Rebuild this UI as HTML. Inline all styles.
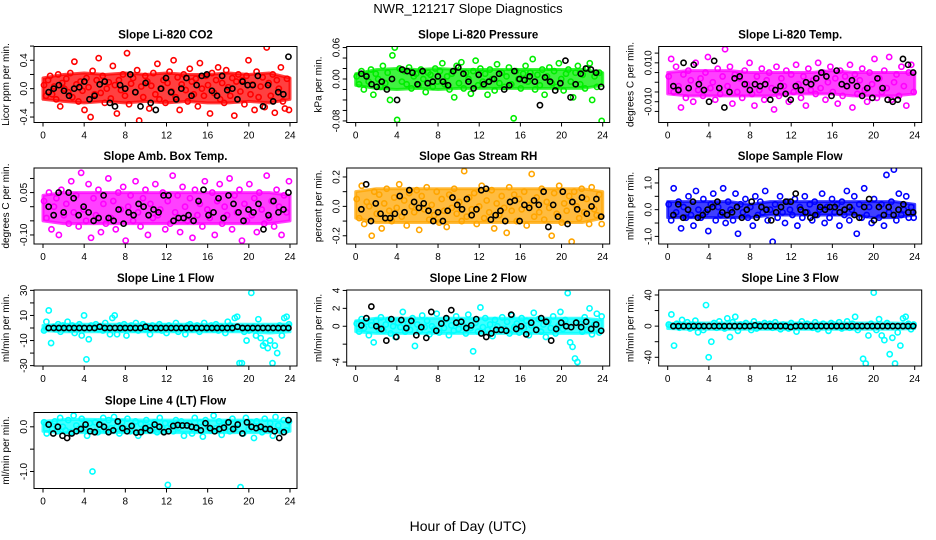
<!DOCTYPE html>
<html><head><meta charset="utf-8">
<style>
body{margin:0;background:#fff;}
svg{display:block;font-family:"Liberation Sans",sans-serif;}
</style></head>
<body>
<svg id="chart" width="936" height="540" viewBox="0 0 936 540">
<rect width="936" height="540" fill="#fff"/>
<text x="468" y="13" text-anchor="middle" font-size="13">NWR_121217  Slope Diagnostics</text>
<text x="468" y="531" text-anchor="middle" font-size="14">Hour of Day (UTC)</text>
</svg>
<script>
// x-axis ticks (hours)
const xTicks = [0,4,8,12,16,20,24];
// hours at which the dense-cloud band limits are given
const bandHours = [0,2,4,6,8,10,12,14,16,18,20,22,24];
// Panel 1: CO2 (values in 0.01 ppm/min)
const co2Color = [5,-10,12,18,-8,3,-15,20,-25,8,0,14,-5,22,-12,38,6,-18,10,-3,-30,15,2,-40,25,-8,12,43,-6,18,-20,0,9,-14,32,5,-35,12,-2,20,-10,50,-22,7,15,-5,26,-45,3,-12,18,10,-28,4,22,-8,35,-15,0,12,-20,8,24,-4,40,-12,16,-30,6,20,-2,-18,28,10,-8,14,-25,36,0,-10,18,5,-35,22,-6,12,30,-15,8,-20,26,2,-10,15,-38,10,20,-4,12,-22,18,40,-8,6,-30,24,-12,3,16,-26,58,8,-10,20,-34,12,0,30,-18,-28,14,-30];
const co2Black = [-5,0,5,-3,-10,0,2,10,-15,-10,6,10,-20,-25,5,0,20,-5,-25,8,-20,-30,0,15,-5,-15,0,15,-10,5,18,20,-3,-10,18,-2,0,-15,10,5,5,18,-25,5,-18,-5,-8,45];
const co2Lo = [-15,-18,-20,-18,-20,-18,-20,-18,-20,-20,-18,-20,-15];
const co2Hi = [15,20,22,20,22,20,22,20,20,22,20,22,15];
// Panel 2: pressure (0.001 kPa/min)
const presColor = [5,-10,15,-20,8,-5,18,-30,10,0,-15,25,-8,12,-40,45,60,-78,20,-5,15,-10,22,-18,5,10,-12,18,0,-25,12,8,-15,20,-5,15,30,-10,5,-20,10,-35,25,-8,32,-18,12,0,-28,15,35,-12,20,-5,10,-30,18,0,-22,28,-8,12,-15,5,22,-10,-75,15,0,-18,10,25,-5,12,38,-20,8,-12,18,-30,5,22,-8,15,-15,30,0,-22,10,18,-5,-35,12,25,-10,8,-18,20,30,-40,5,-15,12,-80];
const presBlack = [10,5,-10,-15,-5,-20,0,-40,18,15,12,-10,15,-8,-5,5,-5,-12,15,22,10,-5,-18,8,-10,-5,0,10,-20,-12,15,0,-2,5,-5,-50,3,-5,-22,-8,35,-35,-10,10,20,18,12,-15];
const presLo = [-12,-18,-20,-18,-20,-18,-18,-18,-18,-18,-18,-18,-12];
const presHi = [10,18,20,18,20,18,18,18,18,18,18,18,12];
// Panel 3: Li-820 temp (0.001 C/min)
const tempColor = [3,12,-5,8,-2,-13,4,-8,6,1,-10,10,-4,2,-7,5,13,-3,0,-9,7,-6,3,17,-2,8,-11,4,-5,2,-8,6,-1,10,-6,-12,3,-4,7,-9,1,5,-3,-14,8,-7,2,-2,6,-10,4,-5,9,-1,-8,3,-12,7,-4,1,-6,10,-3,5,-9,0,8,-5,2,-11,6,-7,3,-2,9,-13,4,-6,1,7,-4,-10,5,-1,12,-8,2,-5,6,-3,13,-9,0,4,-7,8,-2,-12,5,9,-5];
const tempBlack = [-2,-4,10,-3,9,-1,-4,-10,11,-3,-13,-5,2,3,-1,-4,-1,-2,-1,-9,-4,-2,-6,-9,-2,-4,0,-1,2,5,3,-7,6,-1,-2,1,-2,-7,-3,-8,2,-3,-9,-10,-9,12,9,5];
const tempLo = [-6,-7,-7,-7,-7,-7,-6,-6,-6,-7,-7,-7,-6];
const tempHi = [5,6,6,6,5,5,5,5,6,5,5,5,5];
// Panel 4: amb box temp (0.01 C/min)
const ambColor = [2,-4,5,-8,0,3,-10,6,-3,1,-6,9,-2,4,-7,12,-1,-5,8,-11,3,-3,6,-9,1,-6,10,-4,2,-8,5,-1,7,-12,0,4,-5,9,-2,-7,3,6,-10,1,-4,8,-3,-1,5,-8,2,-6,11,-2,4,-9,7,0,-5,3,-11,6,-3,1,-7,9,-1,-4,5,-10,2,8,-6,0,-3,10,-8,4,-2,6,-12,1,-5,8,-3,3,-9,5,-1,-6,11,-4,2,-7,6,0,-10,4,-2,9];
const ambBlack = [0,-3,5,-2,5,3,-3,0,-2,-5,-4,4,-4,-5,-1,-6,-2,-3,1,0,-3,-1,-2,4,4,-5,-4,-4,-3,-5,2,6,-3,-2,3,-4,4,1,-2,-5,-1,-2,1,-8,-3,2,-2,-1,5];
const ambLo = [-5,-6,-6,-6,-6,-6,-6,-6,-6,-6,-6,-6,-5];
const ambHi = [4,5,5,5,5,5,5,5,5,5,5,5,4];
// Panel 5: gas stream RH (0.01 %/min)
const rhColor = [5,-8,14,-12,3,0,-20,10,-5,8,-15,2,12,-3,-10,6,-1,15,-7,4,-13,9,0,-4,11,-16,7,-2,13,-9,1,-6,10,-11,5,-3,-14,8,-1,12,-5,3,-10,24,-7,6,-2,9,-12,0,14,-8,4,-4,11,-15,2,-6,7,-1,-18,13,-3,8,-10,5,-2,10,-13,1,22,-7,6,-4,12,-9,3,-1,-20,9,-5,14,-11,2,-3,7,-24,10,0,-8,12,-4,5,-12,13,-2,-6,8,-12];
const rhBlack = [-2,15,-10,2,-5,-8,-8,-5,7,-4,11,3,-1,2,-3,-10,-4,-10,-3,6,1,-2,5,-6,-2,11,12,-9,-6,-3,-10,3,4,-10,1,-1,4,1,10,-14,1,-7,10,-12,3,-2,6,-5,0,5,-7];
const rhLo = [-8,-11,-11,-11,-11,-11,-11,-11,-11,-11,-11,-11,-8];
const rhHi = [10,12,12,12,12,12,12,12,12,12,12,12,10];
// Panel 6: sample flow (0.1 ml/min/min)
const sfColor = [2,-4,8,-1,3,-7,1,-3,5,-2,-6,7,0,-3,4,-1,-8,2,6,-4,1,-2,8,-5,3,0,-4,6,-9,2,-1,4,-3,1,-6,5,-2,3,-1,7,-4,0,-12,2,-3,5,-1,-5,3,0,-2,4,-6,1,-3,5,-1,2,-4,3,-2,0,6,-5,1,-3,4,-1,2,-6,3,-2,7,-4,0,5,-9,2,-3,8,-2,1,-5,4,18,-3,2,-6,13,-1,3,15,-4,6,-2,0,5,-3,1,-3];
const sfBlack = [-2,2,-3,0,3,-3,-2,0,1,3,-1,-2,-1,1,-3,0,3,-3,1,0,-4,-1,1,3,3,6,0,-1,-3,-2,1,0,1,1,-1,0,1,-2,-3,1,4,-4,1,-2,1,-2,0,2,-1,-1];
const sfLo = [-3,-3,-3,-3,-3,-2,-2,-2,-2,-2,-3,-3,-2];
const sfHi = [3,3,3,3,2,3,3,3,3,3,3,3,2];
// Panel 7: line 1 flow (ml/min/min)
const l1Color = [-2,5,14,-12,1,-1,3,-3,2,0,5,-1,2,-4,1,3,-6,10,-25,-9,2,0,3,-1,1,-2,4,0,-5,8,10,-5,2,-1,3,-6,0,2,-1,4,-2,0,3,-1,1,-5,2,0,-1,3,-2,1,-4,2,0,-1,4,-3,1,0,-5,2,3,-1,0,2,-3,1,4,-1,0,2,-1,3,-2,1,0,-4,5,2,-1,8,9,-28,-28,-3,-10,-2,28,1,-6,7,-8,-14,-12,-16,-10,-28,-14,-20,2,-6,8,9,3];
const l1Black = [0,0,0,0,0,0,0,0,0,0,1,0,0,0,0,0,0,0,0,1,0,0,0,0,0,0,0,0,0,0,0,0,0,0,0,0,0,1,0,0,0,0,0,0,0,0,0,0];
const l1Lo = [-2,-3,-3,-3,-3,-3,-3,-3,-3,-3,-3,-4,-3];
const l1Hi = [2,3,3,3,3,3,3,3,3,3,3,3,3];
// Panel 8: line 2 flow (0.1 ml/min/min)
const l2Color = [3,-6,8,-2,5,-10,1,-18,6,-3,10,-5,2,7,-8,0,-12,4,-1,16,-6,3,-4,9,-22,2,-5,12,-1,6,-9,0,-3,14,-7,4,-2,8,-10,1,-5,11,-3,6,0,-8,13,-2,-28,4,-6,21,-1,9,-4,2,-11,7,0,-5,10,-3,5,-8,12,-1,3,-7,9,-2,6,-10,1,15,-4,8,-6,2,-12,5,-2,11,-8,0,16,-3,7,37,-18,-23,-36,-40,3,-6,10,-4,20,-9,2,14,-7,11];
const l2Black = [1,9,22,0,-3,-16,8,-12,7,-2,6,-10,-1,-13,16,-5,3,9,18,4,5,-2,1,8,-8,-12,-8,-4,-4,-5,13,-3,0,-9,4,-4,9,5,-16,-3,4,0,-1,4,-1,5,-3,2,-5];
const l2Lo = [-6,-8,-8,-8,-8,-8,-8,-8,-8,-8,-8,-8,-6];
const l2Hi = [6,9,9,9,9,9,9,9,9,9,9,9,7];
// Panel 9: line 3 flow (ml/min/min)
const l3Color = [2,15,-25,3,-2,8,0,5,-3,2,7,-8,1,-5,27,-40,-20,4,-2,6,0,-3,10,-14,5,12,-6,2,-1,4,0,-5,6,-3,2,0,4,-1,3,-2,5,0,-4,2,1,-3,4,0,-7,2,6,-1,3,0,-2,5,-4,1,3,0,-6,4,2,-1,5,-3,0,6,-2,3,12,-5,1,-42,-48,-12,3,43,-5,9,-12,-18,4,-36,-15,-48,-8,-25,10,12,3,-4,2];
const l3Black = [0,0,0,0,0,0,0,0,0,0,0,0,0,0,0,0,1,0,0,0,0,0,0,-1,0,0,0,0,0,0,0,0,0,0,0,0,0,0,0,0,0,0,0,0,0,0,0,0];
const l3Lo = [-3,-4,-4,-4,-4,-4,-4,-4,-4,-4,-4,-4,-3];
const l3Hi = [3,4,4,4,4,4,4,4,4,4,4,4,3];
// Panel 10: line 4 flow (0.01 ml/min/min)
const l4Color = [10,-15,5,-5,12,-10,20,0,-8,15,-12,25,3,-5,18,-2,-20,8,-100,10,-12,5,20,-8,15,-3,22,0,-15,10,-5,18,-10,3,12,-20,6,-8,15,0,-5,10,-12,20,-3,8,-130,5,-10,15,-2,12,-20,3,8,-15,20,-5,10,-22,15,0,-8,25,-3,12,-18,5,10,-10,18,-2,8,-135,-15,20,-5,10,-25,12,0,-12,18,-5,8,-20,22,3,-10,15,-8,12];
const l4Black = [5,-15,0,-20,-25,-15,-10,-5,5,-10,-12,5,0,-12,-8,12,-3,-10,2,-13,-12,-3,-8,5,0,-12,-10,2,4,3,3,0,-2,-8,8,-3,-10,-5,-2,10,-5,5,-15,10,0,-3,0,-5,-5,-10,-25,-12,15];
const l4Lo = [-10,-13,-13,-13,-13,-13,-13,-13,-13,-13,-13,-13,-10];
const l4Hi = [12,16,17,16,16,15,15,15,15,15,15,15,12];

const NS='http://www.w3.org/2000/svg';
const svg=document.getElementById('chart');
const colX0=[43,355.7,667.7], SPAN=247, rowTop=[46.5,168,290,412.5], H=76;
function mk(tag,attrs,parent){const e=document.createElementNS(NS,tag);for(const k in attrs)e.setAttribute(k,attrs[k]);parent.appendChild(e);return e;}

const panels=[
 {id:'co2',title:'Slope Li-820 CO2',ylab:'Licor ppm per min.',c:0,r:0,lo:-0.477,hi:0.594,scale:0.01,col:'#ff0000',data:co2Color,blk:co2Black,bLo:co2Lo,bHi:co2Hi,ticks:[0.6,0.4,0.2,0,-0.2,-0.4],labs:{'0.4':'0.4','0':'0.0','-0.4':'-0.4'}},
 {id:'pressure',title:'Slope Li-820 Pressure',ylab:'kPa per min.',c:1,r:0,lo:-0.083,hi:0.062,scale:0.001,col:'#00ee00',data:presColor,blk:presBlack,bLo:presLo,bHi:presHi,ticks:[0.06,0.04,0.02,0,-0.02,-0.04,-0.06,-0.08],labs:{'0.06':'0.06','0':'0.00','-0.08':'-0.08'}},
 {id:'li820-temp',title:'Slope Li-820 Temp.',ylab:'degrees C per min.',c:2,r:0,lo:-0.0207,hi:0.0184,scale:0.001,col:'#ff00ff',data:tempColor,blk:tempBlack,bLo:tempLo,bHi:tempHi,ticks:[0.015,0.01,0.005,0,-0.005,-0.01,-0.015],labs:{'0.01':'0.010','-0.01':'-0.010'}},
 {id:'amb-box-temp',title:'Slope Amb. Box Temp.',ylab:'degrees C per min.',c:0,r:1,lo:-0.132,hi:0.137,scale:0.01,col:'#ff00ff',data:ambColor,blk:ambBlack,bLo:ambLo,bHi:ambHi,ticks:[0.1,0.05,0,-0.05,-0.1],labs:{'0.05':'0.05','-0.1':'-0.10'}},
 {id:'gas-stream-rh',title:'Slope Gas Stream RH',ylab:'percent per min.',c:1,r:1,lo:-0.256,hi:0.261,scale:0.01,col:'#ffa500',data:rhColor,blk:rhBlack,bLo:rhLo,bHi:rhHi,ticks:[0.2,0.1,0,-0.1,-0.2],labs:{'0.2':'0.2','0':'0.0','-0.2':'-0.2'}},
 {id:'sample-flow',title:'Slope Sample Flow',ylab:'ml/min per min.',c:2,r:1,lo:-1.285,hi:1.56,scale:0.1,col:'#0000ff',data:sfColor,blk:sfBlack,bLo:sfLo,bHi:sfHi,ticks:[1.5,1,0.5,0,-0.5,-1],labs:{'1':'1.0','0':'0.0','-1':'-1.0'}},
 {id:'line1-flow',title:'Slope Line 1 Flow',ylab:'ml/min per min.',c:0,r:2,lo:-30.3,hi:30.3,scale:1,col:'#00ffff',data:l1Color,blk:l1Black,bLo:l1Lo,bHi:l1Hi,ticks:[30,20,10,0,-10,-20,-30],labs:{'30':'30','10':'10','-10':'-10','-30':'-30'}},
 {id:'line2-flow',title:'Slope Line 2 Flow',ylab:'ml/min per min.',c:1,r:2,lo:-4.44,hi:4.05,scale:0.1,col:'#00ffff',data:l2Color,blk:l2Black,bLo:l2Lo,bHi:l2Hi,ticks:[4,2,0,-2,-4],labs:{'4':'4','2':'2','0':'0','-4':'-4'}},
 {id:'line3-flow',title:'Slope Line 3 Flow',ylab:'ml/min per min.',c:2,r:2,lo:-51.2,hi:46.4,scale:1,col:'#00ffff',data:l3Color,blk:l3Black,bLo:l3Lo,bHi:l3Hi,ticks:[40,20,0,-20,-40],labs:{'40':'40','0':'0','-40':'-40'}},
 {id:'line4-flow',title:'Slope Line 4 (LT) Flow',ylab:'ml/min per min.',c:0,r:3,lo:-1.38,hi:0.32,scale:0.01,col:'#00ffff',data:l4Color,blk:l4Black,bLo:l4Lo,bHi:l4Hi,ticks:[0,-0.5,-1],labs:{'0':'0.0','-1':'-1.0'}}
];

panels.forEach(p=>{
 const x0=colX0[p.c], top=rowTop[p.r], bot=top+H, left=x0-9, right=x0+SPAN+7;
 const g=mk('g',{},svg);
 
 
 const xs=v=>x0+v/24*SPAN;
 const ys=v=>bot-(v-p.lo)/(p.hi-p.lo)*H;
 const clip=mk('clipPath',{id:'clip-'+p.id},g);
 mk('rect',{x:left,y:top,width:right-left,height:H},clip);
 const t=mk('text',{x:(left+right)/2,y:top-8,'text-anchor':'middle','font-size':'11.5','font-weight':'bold'},g);
 t.textContent=p.title;
 
 
 const yl=mk('text',{x:0,y:0,'text-anchor':'middle','font-size':'10',transform:`translate(${left-25},${(top+bot)/2}) rotate(-90)`},g);
 yl.textContent=p.ylab;
 
 
 const pts=mk('g',{'clip-path':`url(#clip-${p.id})`,fill:'none','stroke-width':'1.6'},g);
 
 
 let d='';
 bandHours.forEach((h,i)=>{d+=(i?'L':'M')+xs(h)+','+ys(p.bHi[i]*p.scale);});
 for(let i=bandHours.length-1;i>=0;i--){d+='L'+xs(bandHours[i])+','+ys(p.bLo[i]*p.scale);}
 const band=mk('path',{d:d+'Z',fill:p.col,stroke:p.col,'stroke-width':'3','stroke-linejoin':'round','fill-opacity':'0.75','stroke-opacity':'0.75'},pts);
 
 
 const n=p.data.length;
 p.data.forEach((v,i)=>{
  const c=mk('circle',{cx:xs(0.1+i*23.8/(n-1)),cy:ys(v*p.scale),r:2.6,stroke:p.col},pts);
  
  
 });
 const m=p.blk.length;
 p.blk.forEach((v,i)=>{
  const c=mk('circle',{cx:xs(0.55+i*23.3/(m-1)),cy:ys(v*p.scale),r:2.6,stroke:'#000'},pts);
  
  
 });
 const box=mk('rect',{x:left,y:top,width:right-left,height:H,fill:'none',stroke:'#000','stroke-width':'1'},g);
 
 
 xTicks.forEach(v=>{
  mk('line',{x1:xs(v),x2:xs(v),y1:bot,y2:bot+4,stroke:'#000'},g);
  const tl=mk('text',{x:xs(v),y:bot+16,'text-anchor':'middle','font-size':'10'},g);
  tl.textContent=v;
  
  
 });
 p.ticks.forEach(v=>{
  const y=ys(v);
  mk('line',{x1:left,x2:left-4,y1:y,y2:y,stroke:'#000'},g);
  const key=String(v);
  if(p.labs[key]!==undefined){
   const tl=mk('text',{x:0,y:0,'text-anchor':'middle','font-size':'10',transform:`translate(${left-7},${y}) rotate(-90)`},g);
   tl.textContent=p.labs[key];
   
   
  }
 });
});
</script>
</body></html>
